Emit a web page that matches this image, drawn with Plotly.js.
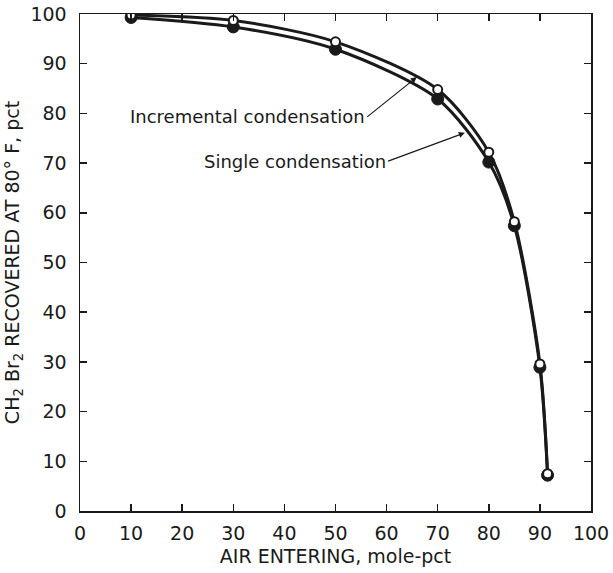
<!DOCTYPE html>
<html>
<head>
<meta charset="utf-8">
<script src="https://cdn.plot.ly/plotly-3.0.1.min.js"></script>
<style>html,body{margin:0;padding:0;background:#fff;}#chart{width:613px;height:573px;}</style>
</head>
<body>
<div id="chart"></div>
<script>
// Air entering, mole-pct
var xIncremental = [10, 30, 50, 70, 80, 85, 90, 91.5];
var yIncremental = [99.8, 98.7, 94.4, 84.8, 72.2, 58.2, 29.6, 7.5];
var xSingle = [10, 30, 50, 70, 80, 85, 90, 91.5];
var ySingle = [99.3, 97.4, 92.9, 82.9, 70.2, 57.4, 28.9, 7.2];
var xTicks = [0, 10, 20, 30, 40, 50, 60, 70, 80, 90, 100];
var yTicks = [0, 10, 20, 30, 40, 50, 60, 70, 80, 90, 100];
var labelIncremental = "Incremental condensation";
var labelSingle = "Single condensation";

var ink = "#1a1a1a";
var fontFam = "DejaVu Sans, sans-serif";

var traces = [
  {x: xSingle, y: ySingle, mode: "lines", line: {color: ink, width: 3, shape: "spline", smoothing: 0.8}, hoverinfo: "skip", showlegend: false},
  {x: xIncremental, y: yIncremental, mode: "lines", line: {color: ink, width: 3, shape: "spline", smoothing: 0.8}, hoverinfo: "skip", showlegend: false},
  {x: xSingle, y: ySingle, mode: "markers", marker: {color: ink, size: 12, line: {color: ink, width: 1}}, name: labelSingle, showlegend: false},
  {x: xIncremental, y: yIncremental, mode: "markers", marker: {color: "#ffffff", size: 9, line: {color: ink, width: 2}}, name: labelIncremental, showlegend: false}
];

var axisCommon = {
  showgrid: false, zeroline: false, showline: true, linecolor: ink, linewidth: 1.5,
  mirror: "ticks", ticks: "inside", ticklen: 7, tickwidth: 1.5, tickcolor: ink,
  tickfont: {family: fontFam, size: 19, color: ink}
};

var layout = {
  width: 613, height: 573,
  margin: {l: 80, r: 22, t: 14, b: 62},
  paper_bgcolor: "#ffffff", plot_bgcolor: "#ffffff",
  xaxis: Object.assign({}, axisCommon, {
    range: [0, 100], tickvals: xTicks, ticktext: xTicks.map(String),
    ticklabelstandoff: 5,
    title: {text: "AIR ENTERING, mole-pct", font: {family: fontFam, size: 19, color: ink}, standoff: 6}
  }),
  yaxis: Object.assign({}, axisCommon, {
    range: [0, 100], tickvals: yTicks, ticktext: yTicks.map(String),
    ticklabelstandoff: 8,
    title: {text: "CH<sub>2</sub> Br<sub>2</sub> RECOVERED AT 80° F, pct", font: {family: fontFam, size: 19, color: ink}, standoff: 6}
  }),
  annotations: [
    {x: 65.9, y: 87.3, ax: 56.2, ay: 79.3, axref: "x", ayref: "y", xref: "x", yref: "y",
     xanchor: "right", yanchor: "middle",
     showarrow: true, arrowhead: 2, arrowsize: 1, arrowwidth: 1.2, arrowcolor: ink, standoff: 0, startstandoff: 0,
     text: labelIncremental, font: {family: fontFam, size: 18, color: ink}},
    {x: 75.3, y: 76.1, ax: 60.3, ay: 70.4, axref: "x", ayref: "y", xref: "x", yref: "y",
     xanchor: "right", yanchor: "middle",
     showarrow: true, arrowhead: 2, arrowsize: 1, arrowwidth: 1.2, arrowcolor: ink, standoff: 0, startstandoff: 0,
     text: labelSingle, font: {family: fontFam, size: 18, color: ink}}
  ]
};

Plotly.newPlot("chart", traces, layout, {staticPlot: true, displayModeBar: false});
</script>
</body>
</html>
